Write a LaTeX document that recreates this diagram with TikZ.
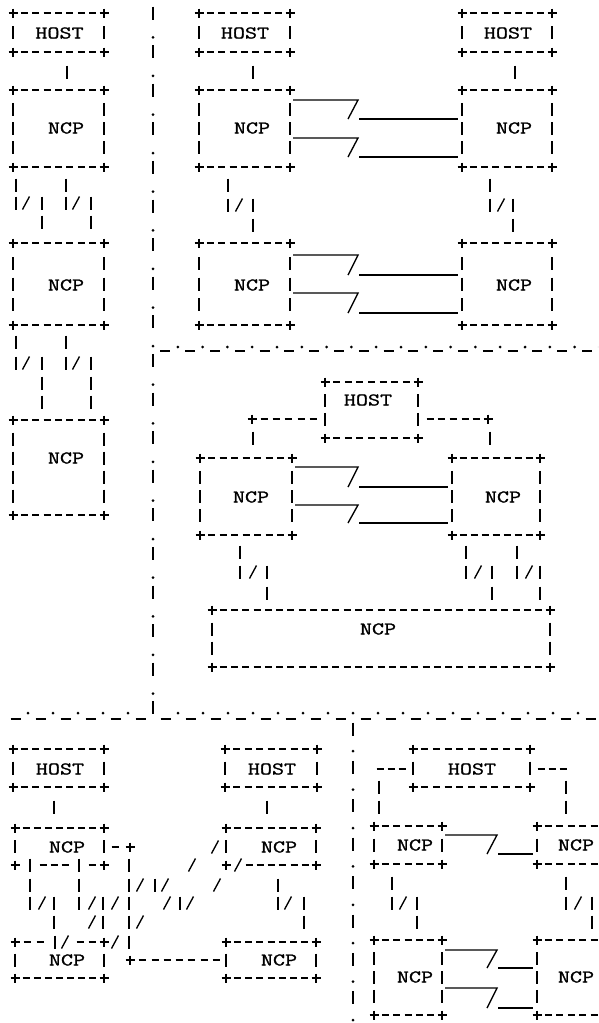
\documentclass[tikz,border=0pt]{standalone}
\usepackage{graphicx}
\usepackage{fontspec}
\newfontfamily\asciifont[FakeBold=1.2]{Latin Modern Mono}
\usetikzlibrary{fit}
\tikzset{
  g/.style={line width=1.35pt},
  boxn/.style={inner sep=0pt, draw=none},
  lab/.style={inner sep=0pt, font=\asciifont\fontsize{18}{18}\selectfont},
}
% ASCII-art glyphs drawn as strokes
\newcommand\aPlus[2]{\draw[g] ({#1-4.5},{#2}) -- ({#1+4.5},{#2}) ({#1},{#2-4.5}) -- ({#1},{#2+4.5});}
\newcommand\aBar[2]{\draw[g] ({#1},{#2-6.5}) -- ({#1},{#2+6.5});}
\newcommand\aDash[2]{\draw[g] ({#1-3.5},{#2}) -- ({#1+3.5},{#2});}
\newcommand\aSlash[2]{\draw[g] ({#1-3.5},{#2+6.5}) -- ({#1+3.5},{#2-6.5});}
\newcommand\aDot[2]{\fill ({#1},{#2}) circle (1.5pt);}
\newcommand\aUnd[2]{\draw[g] ({#1-5},{#2}) -- ({#1+5},{#2});}
% box: name x1 y1 x2 y2 topflag botflag
\newcommand\aBox[7]{%
  \coordinate (#1-nw) at (#2,#3);
  \coordinate (#1-se) at (#4,#5);
  \node[boxn, fit=(#1-nw)(#1-se)] (#1) {};
  \aPlus{#2}{#3}\aPlus{#4}{#3}\aPlus{#2}{#5}\aPlus{#4}{#5}
  \pgfmathtruncatemacro\aNh{round((#4-#2)/11.4)}
  \pgfmathtruncatemacro\aNv{round((#5-#3)/19.3)}
  \pgfmathtruncatemacro\aNhm{\aNh-1}
  \pgfmathtruncatemacro\aNvm{\aNv-1}
  \foreach \k in {1,...,\aNhm}{%
    \pgfmathsetmacro\xx{#2+\k*(#4-#2)/\aNh}
    \ifnum#6=1 \aDash{\xx}{#3}\fi
    \ifnum#7=1 \aDash{\xx}{#5}\fi
  }
  \foreach \k in {1,...,\aNvm}{%
    \pgfmathsetmacro\yy{#3+\k*(#5-#3)/\aNv}
    \aBar{#2}{\yy}\aBar{#4}{\yy}
  }
}
\newcommand\aLab[4]{\node[lab] (#1) at (#2,#3) {\scalebox{1.3}[1]{#4}};}
% long link with a jog: from to yupper ylower xslash
\newcommand\aLink[5]{%
  \draw[g, shorten <=3pt] (#1.east |- 0,#3) -- (#5,#3) -- ({#5-10},{#4});
  \draw[g, shorten >=4pt] ({#5+1},#4) -- (#2.west |- 0,#4);
}
\begin{document}
\begin{tikzpicture}[x=1pt,y=-1pt]
\useasboundingbox (0,0) rectangle (598,1023);
\fill[white] (0,0) rectangle (598,1023);
\clip (0,0) rectangle (598,1023);

% ---------- separators ----------
\foreach \k in {0,...,36}{%
  \pgfmathsetmacro\yy{13+\k*19.3}
  \ifodd\k \aDot{153}{\yy+5}\else \aBar{153}{\yy}\fi
}
\foreach \k in {1,...,18}{\aDot{153+24.8*\k}{347}}
\foreach \k in {0,...,17}{\aUnd{165.4+24.8*\k}{351}}
\foreach \k in {-5,...,-1}{\aDot{153+25*\k}{713}}
\foreach \k in {1,...,17}{\aDot{153+25*\k}{713}}
\foreach \k in {-6,...,17}{\aUnd{165.5+25*\k}{719}}
\foreach \k in {0,...,15}{%
  \pgfmathsetmacro\yy{729+\k*19.2}
  \ifodd\k \aDot{353}{\yy+3}\else \aBar{353}{\yy}\fi
}

% ---------- top-left column ----------
\aBox{b1}{13}{13}{104}{52}{1}{1} \aLab{t1}{59.5}{33}{HOST}
\aBar{67}{72}
\aBox{b2}{13}{90}{104}{167}{1}{1} \aLab{t2}{66}{128}{NCP}
\aBar{16}{185}\aBar{16}{203}\aSlash{26}{203}\aBar{42}{203}\aBar{42}{222}
\aBar{66}{185}\aBar{66}{203}\aSlash{76}{203}\aBar{91}{203}\aBar{91}{222}
\aBox{b3}{13}{243}{104}{325}{1}{1} \aLab{t3}{66}{285}{NCP}
\aBar{16}{342}\aBar{16}{363}\aSlash{26}{363}\aBar{42}{363}\aBar{42}{383}\aBar{42}{402}
\aBar{66}{342}\aBar{66}{363}\aSlash{76}{363}\aBar{91}{363}\aBar{91}{383}\aBar{91}{402}
\aBox{b4}{13}{420}{104}{515}{1}{1} \aLab{t4}{66}{458}{NCP}

% ---------- top section ----------
\aBox{b5}{199}{13}{290}{52}{1}{1} \aLab{t5}{245}{33}{HOST}
\aBar{253}{72}
\aBox{b6}{199}{90}{290}{167}{1}{1} \aLab{t6}{252}{128}{NCP}
\aBar{228}{185}\aBar{228}{205}\aSlash{239}{205}\aBar{253}{205}\aBar{253}{225}
\aBox{b7}{199}{243}{290}{325}{1}{1} \aLab{t7}{252}{285}{NCP}
\aBox{b8}{462}{13}{552}{52}{1}{1} \aLab{t8}{508}{33}{HOST}
\aBar{515}{72}
\aBox{b9}{462}{90}{552}{167}{1}{1} \aLab{t9}{514}{128}{NCP}
\aBar{490}{185}\aBar{490}{205}\aSlash{501}{205}\aBar{513}{205}\aBar{513}{225}
\aBox{b10}{462}{243}{552}{325}{1}{1} \aLab{t10}{514}{285}{NCP}
\aLink{b6}{b9}{100}{119}{358}
\aLink{b6}{b9}{138}{157}{358}
\aLink{b7}{b10}{255}{275}{358}
\aLink{b7}{b10}{293}{313}{358}

% ---------- middle section ----------
\aBox{b11}{325}{382}{418}{438}{1}{1} \aLab{t11}{368}{400}{HOST}
\aPlus{252}{419}
\foreach \x in {264,276,288,301,313}{\aDash{\x}{419}}
\aBar{253}{438}
\foreach \x in {430,441,453,465,476}{\aDash{\x}{419}}
\aPlus{488}{419}
\aBar{490}{438}
\aBox{b12}{200}{458}{292}{535}{1}{1} \aLab{t12}{251}{497}{NCP}
\aBox{b13}{452}{458}{540}{535}{1}{1} \aLab{t13}{503}{497}{NCP}
\aLink{b12}{b13}{467}{487}{358}
\aLink{b12}{b13}{505}{523}{358}
\aBar{240}{552}\aBar{240}{572}\aSlash{253}{572}\aBar{267}{572}\aBar{267}{593}
\aBar{466}{552}\aBar{466}{572}\aSlash{478}{572}\aBar{492}{572}\aBar{492}{593}
\aBar{517}{552}\aBar{517}{572}\aSlash{529}{572}\aBar{540}{572}\aBar{540}{593}
\aBox{b14}{212}{610}{550}{667}{1}{1} \aLab{t14}{378}{629}{NCP}

% ---------- bottom-left section ----------
\aBox{b20}{13}{749}{104}{787}{1}{1} \aLab{t20}{60}{769}{HOST}
\aBar{54}{807}
\aBox{b22}{15}{828}{104}{865}{1}{0} \aLab{t22}{67}{847}{NCP}
\aBar{30}{865}\aDash{43}{865}\aDash{54}{865}\aDash{65}{865}\aBar{79}{865}\aDash{92}{865}
\aBox{b21}{225}{749}{317}{787}{1}{1} \aLab{t21}{272}{769}{HOST}
\aBar{267}{807}
\aBox{b24}{226}{828}{316}{865}{1}{0} \aLab{t24}{279}{847}{NCP}
\aSlash{238}{865}
\foreach \x in {249,260,271,282,294,305}{\aDash{\x}{865}}
\aBox{b23}{15}{942}{104}{978}{0}{1} \aLab{t23}{67}{960}{NCP}
\aDash{27}{942}\aDash{40}{942}\aBar{55}{942}\aSlash{65}{942}\aDash{80}{942}\aDash{92}{942}
\aBox{b25}{226}{942}{316}{978}{1}{1} \aLab{t25}{279}{960}{NCP}
% connector b22 -> b25
\aDash{115}{847}\aPlus{130}{847}
\foreach \y in {865,885,903,922,942}{\aBar{129}{\y}}
\aPlus{130}{960}
\foreach \x in {142,155,167,179,191,204,216}{\aDash{\x}{960}}
% links b22 -> b23
\aBar{30}{885}\aBar{30}{903}\aSlash{42}{903}\aBar{54}{903}\aBar{54}{922}
\aBar{79}{885}\aBar{79}{903}\aSlash{92}{903}\aBar{103}{903}\aSlash{92}{922}\aBar{103}{922}
% diagonal links b24 -> b23
\aSlash{215}{847}\aSlash{192}{865}\aSlash{217}{885}
\aSlash{140}{885}\aBar{155}{885}\aSlash{165}{885}
\aSlash{115}{903}\aSlash{167}{903}\aBar{180}{903}\aSlash{190}{903}
\aSlash{140}{922}\aSlash{115}{942}
% link b24 -> b25
\aBar{278}{885}\aBar{278}{903}\aSlash{288}{903}\aBar{304}{903}\aBar{304}{922}

% ---------- bottom-right section ----------
\aBox{b15}{413}{749}{530}{787}{1}{1} \aLab{t15}{472}{769}{HOST}
\foreach \x in {380,391,402}{\aDash{\x}{769}}
\aBar{379}{787}\aBar{379}{807}
\foreach \x in {541,552,563}{\aDash{\x}{769}}
\aBar{566}{787}\aBar{566}{807}
\aBox{b16}{374}{826}{442}{864}{1}{1} \aLab{t16}{415}{845}{NCP}
\aBox{b17}{537}{826}{640}{864}{1}{1} \aLab{t17}{576}{845}{NCP}
\aLink{b16}{b17}{835}{854}{497}
\aBar{392}{883}\aBar{392}{903}\aSlash{403}{903}\aBar{417}{903}\aBar{417}{922}
\aBar{566}{883}\aBar{566}{903}\aSlash{578}{903}\aBar{592}{903}\aBar{592}{922}
\aBox{b18}{374}{940}{442}{1015}{1}{1} \aLab{t18}{415}{977}{NCP}
\aBox{b19}{537}{940}{640}{1015}{1}{1} \aLab{t19}{576}{977}{NCP}
\aLink{b18}{b19}{950}{968}{497}
\aLink{b18}{b19}{988}{1008}{497}
\end{tikzpicture}
\end{document}
